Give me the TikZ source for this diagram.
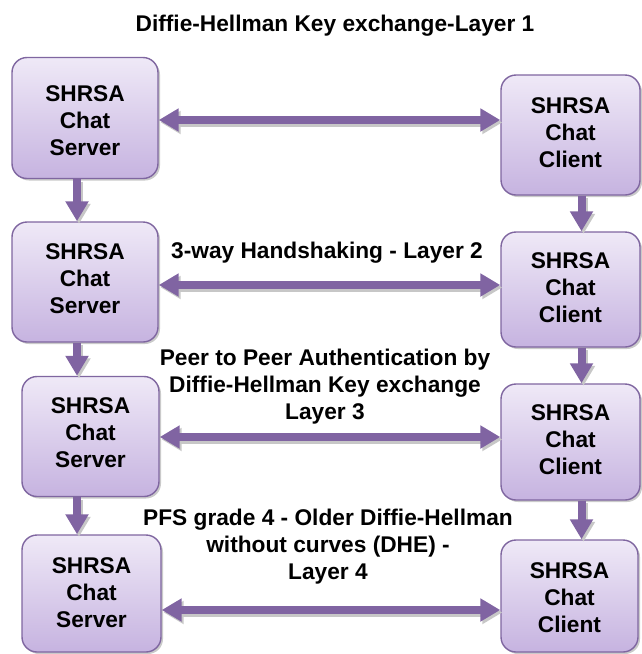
\documentclass[tikz,border=0pt]{standalone}
\usepackage{fontspec}
\setmainfont{Liberation Sans}
\usetikzlibrary{arrows.meta,shadows,calc}

\definecolor{plum}{HTML}{8064A2}
\definecolor{boxtop}{HTML}{EFE9F7}
\definecolor{boxbot}{HTML}{C6B3E0}
\definecolor{boxline}{HTML}{7F66A0}

\tikzset{
  chatbox/.style={
    rectangle, rounded corners=15pt, draw=boxline, line width=1.4pt,
    top color=boxtop, bottom color=boxbot,
    drop shadow={shadow xshift=2pt, shadow yshift=-2pt, opacity=0.35, fill=black!60},
    inner sep=0pt},
  boxtext/.style={align=center, inner sep=0pt,
    font=\fontsize{22.7}{27}\selectfont\bfseries},
  caption/.style={align=center, font=\fontsize{22.7}{27}\selectfont\bfseries},
  linkarrow/.style={draw=plum, line width=8pt,
    arrows={Triangle[width=22pt,length=20pt]-Triangle[width=22pt,length=20pt]}},
  steparrow/.style={draw=plum, line width=8pt,
    arrows={-Triangle[width=22pt,length=20pt]}}
}

\begin{document}
\begin{tikzpicture}[x=1pt,y=-1pt]
\useasboundingbox (0,0) rectangle (641,654);

% server column
\node[chatbox, minimum width=146pt, minimum height=121pt,
  label={[boxtext,yshift=-3pt]center:{SHRSA\\Chat\\Server}}] (s1) at (85,118) {};
\node[chatbox, minimum width=146pt, minimum height=120pt,
  label={[boxtext,yshift=3pt]center:{SHRSA\\Chat\\Server}}] (s2) at (85,282) {};
\node[chatbox, minimum width=137pt, minimum height=120pt,
  label={[boxtext,yshift=3.5pt]center:{SHRSA\\Chat\\Server}}] (s3) at (90.5,436.5) {};
\node[chatbox, minimum width=139pt, minimum height=117pt,
  label={[boxtext,yshift=0.5pt]center:{SHRSA\\Chat\\Server}}] (s4) at (91.5,593.5) {};

% client column
\node[chatbox, minimum width=139pt, minimum height=120pt,
  label={[boxtext,yshift=2pt]center:{SHRSA\\Chat\\Client}}] (c1) at (570.5,135) {};
\node[chatbox, minimum width=139pt, minimum height=115pt,
  label={[boxtext,yshift=1.5pt]center:{SHRSA\\Chat\\Client}}] (c2) at (570.5,289.5) {};
\node[chatbox, minimum width=139pt, minimum height=116pt,
  label={[boxtext,yshift=2pt]center:{SHRSA\\Chat\\Client}}] (c3) at (570.5,442) {};
\node[chatbox, minimum width=137pt, minimum height=112pt,
  label={[boxtext,yshift=-2pt]center:{SHRSA\\Chat\\Client}}] (c4) at (569.5,596) {};

% captions
\node[caption] (t1) at (335,25.5) {Diffie-Hellman Key exchange-Layer 1};
\node[caption] (t2) at (327,252.5) {3-way Handshaking - Layer 2};
\node[caption] (t3) at (325,386.5) {Peer to Peer Authentication by\\Diffie-Hellman Key exchange\\Layer 3};
\node[caption] (t4) at (328,546.5) {PFS grade 4 - Older Diffie-Hellman\\without curves (DHE) -\\Layer 4};

% reference rows and columns for the connectors
\coordinate (r1) at (0,120);
\coordinate (r2) at (0,285);
\coordinate (r3) at (0,437);
\coordinate (r4) at (0,610);
\coordinate (vs) at (77,0);
\coordinate (vc) at (581.5,0);

% soft shadows under the connectors
\begin{scope}[transform canvas={shift={(2pt,-2.5pt)}}]
  \foreach \a/\b/\r in {s1/c1/r1, s2/c2/r2, s3/c3/r3, s4/c4/r4}
    \draw[linkarrow, draw=black!22, fill=black!22] (\a.east |- \r) -- (\b.west |- \r);
  \foreach \a/\b in {s1/s2, s2/s3, s3/s4}
    \draw[steparrow, draw=black!22, fill=black!22] (\a.south -| vs) -- (\b.north -| vs);
  \foreach \a/\b in {c1/c2, c2/c3, c3/c4}
    \draw[steparrow, draw=black!22, fill=black!22] (\a.south -| vc) -- (\b.north -| vc);
\end{scope}

% connectors
\foreach \a/\b/\r in {s1/c1/r1, s2/c2/r2, s3/c3/r3, s4/c4/r4}
  \draw[linkarrow] (\a.east |- \r) -- (\b.west |- \r);
\foreach \a/\b in {s1/s2, s2/s3, s3/s4}
  \draw[steparrow] (\a.south -| vs) -- (\b.north -| vs);
\foreach \a/\b in {c1/c2, c2/c3, c3/c4}
  \draw[steparrow] (\a.south -| vc) -- (\b.north -| vc);
\end{tikzpicture}
\end{document}
